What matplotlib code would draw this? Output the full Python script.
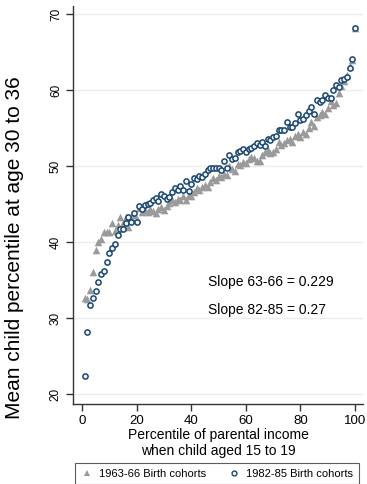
import matplotlib
matplotlib.use("Agg")
import matplotlib.pyplot as plt
from matplotlib.lines import Line2D

plt.rcParams['font.family'] = ['Liberation Sans', 'DejaVu Sans']

percentile = list(range(1, 101))

cohort_6366 = [
    32.6, 32.5, 33.7, 36.1, 39.0, 40.0, 40.4, 41.3, 41.3, 41.3,
    42.5, 41.4, 42.2, 43.3, 42.5, 43.3, 42.0, 43.3, 43.5, 43.0,
    44.5, 44.0, 44.2, 44.0, 44.3, 44.1, 43.8, 44.3, 44.6, 44.2,
    44.8, 45.2, 45.5, 45.3, 45.7, 45.5, 46.0, 45.5, 46.2, 46.0,
    46.6, 47.1, 46.8, 47.3, 47.5, 47.3, 47.9, 48.4, 48.2, 48.7,
    48.5, 49.0, 48.8, 50.0, 49.6, 49.3, 50.3, 50.1, 50.5, 50.4,
    50.9, 51.2, 51.0, 50.7, 50.6, 51.5, 51.8, 52.1, 51.7, 51.9,
    52.2, 53.2, 52.8, 53.0, 53.4, 53.6, 53.1, 54.0, 54.2, 53.8,
    54.5, 54.2, 55.0, 55.8, 55.3, 56.4, 56.7, 57.1, 56.8, 57.6,
    58.5, 58.0, 58.3, 59.6, 60.5, 61.2, 62.0, 63.1, 64.0, 68.1,
]

cohort_8285 = [
    22.4, 28.2, 31.7, 32.6, 33.6, 34.8, 35.8, 36.2, 37.4, 38.5,
    39.2, 39.8, 40.9, 41.7, 41.7, 42.5, 43.3, 42.7, 43.8, 42.6,
    44.8, 44.3, 44.9, 45.0, 45.2, 45.5, 45.8, 45.4, 46.3, 46.1,
    45.6, 45.9, 46.6, 47.1, 46.8, 47.4, 46.8, 48.0, 46.7, 47.7,
    48.4, 48.3, 48.7, 48.6, 48.9, 49.5, 49.7, 49.8, 49.8, 49.7,
    49.5, 50.6, 49.7, 51.4, 50.9, 51.0, 51.8, 52.0, 52.3, 51.8,
    52.3, 52.4, 52.7, 53.0, 52.8, 53.2, 52.7, 53.5, 53.4, 53.8,
    53.9, 54.7, 54.8, 54.7, 55.8, 55.2, 55.2, 55.6, 56.9, 56.1,
    56.2, 56.7, 57.2, 57.8, 56.8, 58.7, 58.4, 58.7, 59.3, 59.0,
    58.9, 60.0, 60.6, 60.4, 61.3, 61.5, 61.7, 62.9, 64.1, 68.1,
]

xticks = [0, 20, 40, 60, 80, 100]
yticks = [20, 30, 40, 50, 60, 70]

gray = '#9a9a9a'
navy = '#1a476f'
gridc = '#e9f0f1'

fig = plt.figure(figsize=(3.67, 4.84), dpi=100)
ax = fig.add_axes([73/367, 1 - 404/484, 290/367, 398/484])

ax.scatter(percentile, cohort_6366, marker='^', s=30, color=gray, linewidths=0, zorder=3)
ax.scatter(percentile, cohort_8285, marker='o', s=14, facecolor='#f4f6f8', edgecolor=navy,
           linewidths=1.1, zorder=4)

ax.set_xlim(-3.3, 102.9)
ax.set_ylim(18.7, 71.05)
ax.set_xticks(xticks)
ax.set_yticks(yticks)
ax.set_xticklabels([str(v) for v in xticks], fontsize=9.5)
ax.set_yticklabels([str(v) for v in yticks], fontsize=8.5, rotation=90, va='center')
ax.grid(axis='y', color=gridc, linewidth=1.0, zorder=0)
ax.set_axisbelow(True)
for s in ['top', 'right']:
    ax.spines[s].set_visible(False)
for s in ['left', 'bottom']:
    ax.spines[s].set_color('#333333')
    ax.spines[s].set_linewidth(1.0)
ax.tick_params(axis='both', direction='out', length=5, width=1.0, color='#333333', pad=3)

ax.set_ylabel('Mean child percentile at age 30 to 36', fontsize=15, va='center')
ax.yaxis.set_label_coords((15 - 73) / 290, (404 - 248) / 398)
ax.set_xlabel('Percentile of parental income\nwhen child aged 15 to 19', fontsize=10,
              labelpad=1, linespacing=1.1)

ax.text(46.0, 34.8, 'Slope 63-66 = 0.229', fontsize=10, va='center', ha='left')
ax.text(46.0, 31.0, 'Slope 82-85 = 0.27', fontsize=10, va='center', ha='left')

handles = [
    Line2D([], [], linestyle='none', marker='^', markersize=5, color=gray, markeredgewidth=0),
    Line2D([], [], linestyle='none', marker='o', markersize=3.5, markerfacecolor='#f4f6f8',
           markeredgecolor=navy, markeredgewidth=1.0),
]
leg = fig.legend(handles, ['1963-66 Birth cohorts', '1982-85 Birth cohorts'],
                 loc='lower center', bbox_to_anchor=(217/367, -0.012), ncol=2, fontsize=8,
                 frameon=True, fancybox=False, edgecolor='#333333', handlelength=1.0,
                 handletextpad=0.6, columnspacing=2.0, borderpad=0.5)
leg.get_frame().set_linewidth(0.8)

fig.savefig('out.png', dpi=100)
